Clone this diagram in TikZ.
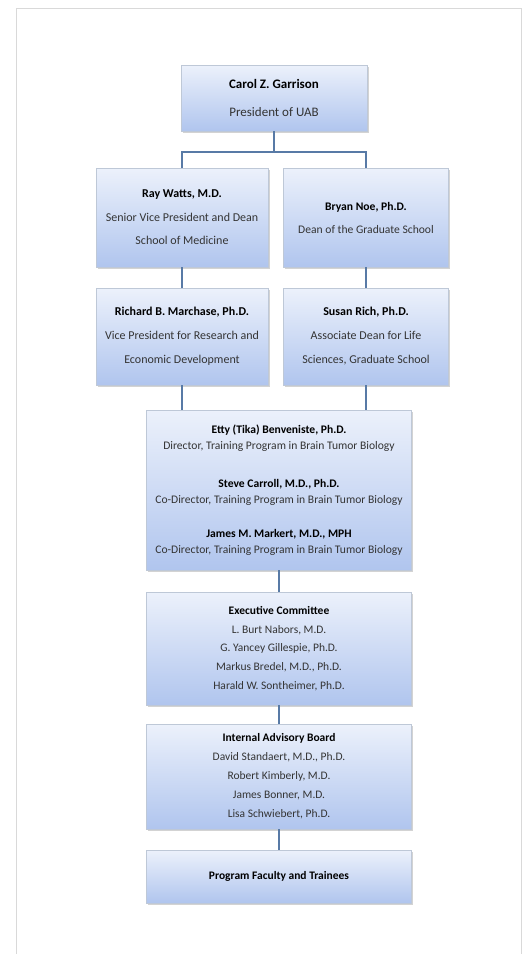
\documentclass[tikz,border=0pt]{standalone}
\usepackage{fontspec}
\setmainfont{Carlito}
\usetikzlibrary{shadows}
\definecolor{linkblue}{RGB}{88,122,166}
\definecolor{boxtop}{RGB}{236,241,251}
\definecolor{boxbot}{RGB}{176,197,238}
\definecolor{boxedge}{RGB}{190,200,215}
\definecolor{bodygray}{RGB}{52,52,52}
\begin{document}
\begin{tikzpicture}[x=1pt,y=-1pt,
  orgbox/.style={draw=boxedge, line width=0.5pt, top color=boxtop, bottom color=boxbot,
    drop shadow={shadow xshift=1.5pt, shadow yshift=-1.8pt, opacity=0.35},
    align=center, inner sep=0pt, text=bodygray},
  link/.style={draw=linkblue, line width=1.8pt}]
 \useasboundingbox (0,0) rectangle (528,954);
 % page frame, open at the bottom
 \draw[line width=1.5pt, black!15] (16.5,954) -- (16.5,8.5) -- (521.5,8.5) -- (521.5,954);
 % university level
 \node[orgbox, minimum width=186pt, minimum height=66pt, font=\fontsize{13}{28}\selectfont] (pres) at (274,98)
   {\textbf{\color{black}Carol Z. Garrison}\\President of UAB};
 \node[orgbox, minimum width=172pt, minimum height=99pt, font=\fontsize{12}{23.5}\selectfont] (watts) at (182,217.5)
   {\textbf{\color{black}Ray Watts, M.D.}\\Senior Vice President and Dean\\School of Medicine};
 \node[orgbox, minimum width=165pt, minimum height=99pt, font=\fontsize{11.6}{23}\selectfont] (noe) at (366,217.5)
   {\textbf{\color{black}Bryan Noe, Ph.D.}\\Dean of the Graduate School};
 \node[orgbox, minimum width=172pt, minimum height=97pt, font=\fontsize{12}{24}\selectfont] (march) at (182,336.5)
   {\textbf{\color{black}Richard B. Marchase, Ph.D.}\\Vice President for Research and\\Economic Development};
 \node[orgbox, minimum width=165pt, minimum height=97pt, font=\fontsize{12}{24}\selectfont] (rich) at (366,336.5)
   {\textbf{\color{black}Susan Rich, Ph.D.}\\Associate Dean for Life\\Sciences, Graduate School};
 % training program
 \node[orgbox, minimum width=265pt, minimum height=160pt, font=\fontsize{11.6}{16.5}\selectfont] (dir) at (279,490)
   {\textbf{\color{black}Etty (Tika) Benveniste, Ph.D.}\\Director, Training Program in Brain Tumor Biology\\[21pt]
    \textbf{\color{black}Steve Carroll, M.D., Ph.D.}\\Co-Director, Training Program in Brain Tumor Biology\\[17pt]
    \textbf{\color{black}James M. Markert, M.D., MPH}\\Co-Director, Training Program in Brain Tumor Biology};
 \node[orgbox, minimum width=265pt, minimum height=113pt, font=\fontsize{11.5}{18.8}\selectfont] (exec) at (279,648.5)
   {\textbf{\color{black}Executive Committee}\\L. Burt Nabors, M.D.\\G. Yancey Gillespie, Ph.D.\\Markus Bredel, M.D., Ph.D.\\Harald W. Sontheimer, Ph.D.};
 \node[orgbox, minimum width=265pt, minimum height=105pt, font=\fontsize{11.5}{19}\selectfont] (iab) at (279,776.5)
   {\textbf{\color{black}Internal Advisory Board}\\David Standaert, M.D., Ph.D.\\Robert Kimberly, M.D.\\James Bonner, M.D.\\Lisa Schwiebert, Ph.D.};
 \node[orgbox, minimum width=265pt, minimum height=53pt, font=\fontsize{11.5}{19}\selectfont] (prog) at (279,876.5)
   {\textbf{\color{black}Program Faculty and Trainees}};
 % connectors
 \coordinate (split) at (274,152);
 \draw[link] (pres.south) -- (split);
 \draw[link] (watts.north) |- (split) -| (noe.north);
 \draw[link] (watts.south) -- (march.north);
 \draw[link] (noe.south) -- (rich.north);
 \draw[link] (march.south) -- (march.south |- dir.north);
 \draw[link] (rich.south) -- (rich.south |- dir.north);
 \draw[link] (dir.south) -- (exec.north);
 \draw[link] (exec.south) -- (iab.north);
 \draw[link] (iab.south) -- (prog.north);
\end{tikzpicture}
\end{document}
